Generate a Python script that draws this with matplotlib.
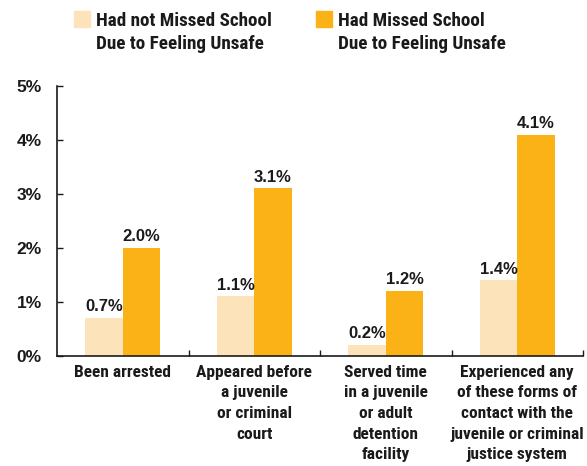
import matplotlib
matplotlib.use("Agg")
import matplotlib.pyplot as plt
import numpy as np
from matplotlib.patches import Rectangle

categories = ["Been arrested",
              "Appeared before\na juvenile\nor criminal\ncourt",
              "Served time\nin a juvenile\nor adult\ndetention\nfacility",
              "Experienced any\nof these forms of\ncontact with the\njuvenile or criminal\njustice system"]
not_missed = [0.7, 1.1, 0.2, 1.4]
missed = [2.0, 3.1, 1.2, 4.1]
series_labels = ["Had not Missed School\nDue to Feeling Unsafe",
                 "Had Missed School\nDue to Feeling Unsafe"]
y_ticks = [0, 1, 2, 3, 4, 5]
y_ticklabels = ["0%", "1%", "2%", "3%", "4%", "5%"]

c_light = "#FDE3BA"
c_orange = "#FBB217"
dark = "#1a1a1a"
cond = ["Roboto Condensed", "DejaVu Sans"]
reg = ["Liberation Sans", "DejaVu Sans"]

fig = plt.figure(figsize=(5.87, 4.66), dpi=100)
ax = fig.add_axes([57/587, 1-355.7/466, (583-57)/587, (355.7-86)/466])

x = np.arange(len(categories))
w = 0.286
b1 = ax.bar(x - w/2, not_missed, w, color=c_light)
b2 = ax.bar(x + w/2, missed, w, color=c_orange)
for bars, vals in ((b1, not_missed), (b2, missed)):
    for r, v in zip(bars, vals):
        ax.annotate(f"{v:.1f}%", (r.get_x() + r.get_width()/2, v),
                    xytext=(0, 2.5), textcoords="offset points",
                    ha="center", va="bottom", fontsize=12,
                    fontweight="bold", family=reg, color=dark)

ax.set_xlim(-0.5, 3.5)
ax.set_ylim(0, 5)
for s in ("top", "right"):
    ax.spines[s].set_visible(False)
for s in ("left", "bottom"):
    ax.spines[s].set_color(dark)
    ax.spines[s].set_linewidth(1.2)

ax.set_yticks(y_ticks)
ax.set_yticklabels(y_ticklabels, fontsize=12.5, fontweight="bold",
                   family=reg, color=dark)
ax.tick_params(axis="y", direction="in", length=4.5, width=1, color=dark, pad=11)

ax.set_xticks(x + 0.5)
ax.tick_params(axis="x", direction="in", length=4.5, width=1, color=dark,
               labelbottom=False)
for xi, lab in zip(x, categories):
    ax.annotate(lab, (xi, 0), xycoords=("data", "axes fraction"),
                xytext=(0, -6.5), textcoords="offset points",
                ha="center", va="top", fontsize=12.5,
                fontweight="bold", family=cond, color=dark, linespacing=1.47)

# legend
sq = [(74, 11), (316, 11)]
cols = [c_light, c_orange]
for (lx, ly), col, lab in zip(sq, cols, series_labels):
    fig.patches.append(Rectangle((lx/587, 1-(ly+16)/466), 16/587, 16/466,
                                 transform=fig.transFigure, color=col))
    fig.text((lx+22)/587, 1-11.5/466, lab, ha="left", va="top", fontsize=13.8,
             fontweight="bold", family=cond, color=dark, linespacing=1.42)

fig.savefig("out.png", dpi=100)
